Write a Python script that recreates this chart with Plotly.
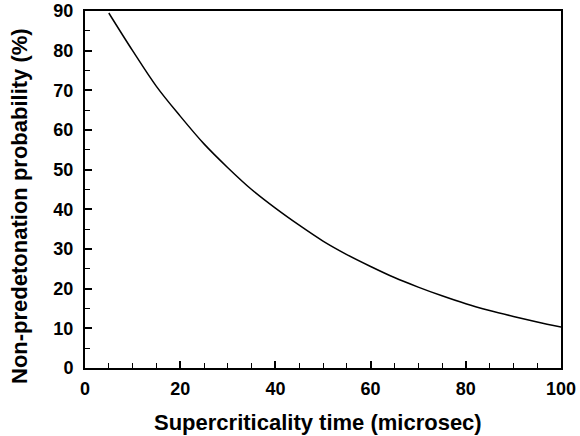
import plotly.graph_objects as go

time_us = [5, 10, 15, 20, 25, 30, 35, 40, 45, 50, 55, 60, 65, 70, 75, 80, 85, 90, 95, 100]
prob_pct = [89.5, 80.0, 71.0, 63.5, 56.5, 50.5, 45.0, 40.3, 36.0, 32.0, 28.6, 25.6, 22.8, 20.4, 18.2, 16.2, 14.5, 13.0, 11.6, 10.3]

x_ticks = [0, 20, 40, 60, 80, 100]
y_ticks = [0, 10, 20, 30, 40, 50, 60, 70, 80, 90]
x_title = "Supercriticality time (microsec)"
y_title = "Non-predetonation probability (%)"

FONT = "Liberation Sans"

fig = go.Figure()
fig.add_trace(go.Scatter(x=time_us, y=prob_pct, mode="lines",
                         line=dict(color="black", width=1.5, shape="spline"),
                         showlegend=False, hoverinfo="x+y"))

axis_common = dict(
    showgrid=False, zeroline=False, showline=True, linecolor="black", linewidth=2,
    mirror=True, ticks="inside", ticklen=7, tickwidth=1.5, tickcolor="black",
    tickfont=dict(family=FONT, size=18, color="black"), automargin=False,
)

fig.update_layout(
    width=580, height=436,
    margin=dict(l=85, r=19, t=11, b=68),
    plot_bgcolor="white", paper_bgcolor="white",
    font=dict(family=FONT, color="black"),
    xaxis=dict(range=[0, 100], tickvals=x_ticks,
               ticktext=["<b>%d</b>" % v for v in x_ticks],
               ticklabelstandoff=3,
               minor=dict(ticks="inside", ticklen=5, tickwidth=1.2, tickcolor="black", dtick=5),
               **axis_common),
    yaxis=dict(range=[0, 90], tickvals=y_ticks,
               ticktext=["<b>%d</b>" % v for v in y_ticks],
               ticklabelstandoff=6,
               minor=dict(ticks="inside", ticklen=5, tickwidth=1.2, tickcolor="black", dtick=5),
               **axis_common),
)

fig.add_annotation(text="<b>%s</b>" % x_title, xref="paper", yref="paper",
                   x=0.4895, y=0, xanchor="center", yanchor="middle", yshift=-54,
                   showarrow=False, font=dict(family=FONT, size=22, color="black"))
fig.add_annotation(text="<b>%s</b>" % y_title, xref="paper", yref="paper",
                   x=-0.1366, y=0.4538, xanchor="center", yanchor="middle", textangle=-90,
                   showarrow=False, font=dict(family=FONT, size=22, color="black"))

fig.write_html("out.html", config={"displayModeBar": False},
               post_script="document.body.style.margin='0';")
